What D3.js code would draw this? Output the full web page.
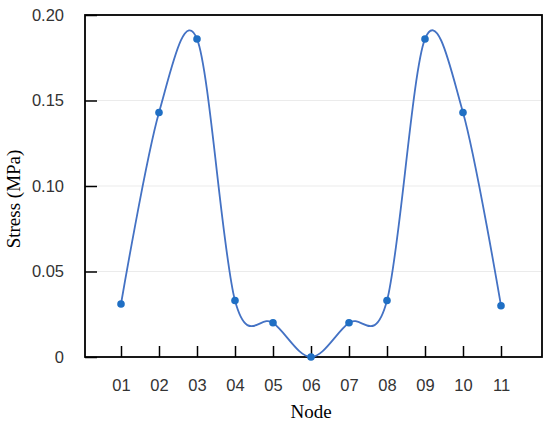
<!DOCTYPE html>
<html>
<head>
<meta charset="utf-8">
<script src="https://cdn.jsdelivr.net/npm/d3@7"></script>
<style>
  body { margin: 0; background: #fff; }
  svg { display: block; }
</style>
</head>
<body>
<div id="chart"></div>
<script>
const nodes = ['01', '02', '03', '04', '05', '06', '07', '08', '09', '10', '11'];
const stress = [0.031, 0.143, 0.186, 0.033, 0.020, 0.0, 0.020, 0.033, 0.186, 0.143, 0.030];
const yTicks = [0, 0.05, 0.10, 0.15, 0.20];
const yTickLabels = ['0', '0.05', '0.10', '0.15', '0.20'];

const W = 550, H = 428;
const margin = { top: 15, right: 8, bottom: 71, left: 85 };
const width = W - margin.left - margin.right;
const height = H - margin.top - margin.bottom;

const svg = d3.select('#chart').append('svg')
  .attr('width', W).attr('height', H);

const g = svg.append('g')
  .attr('transform', `translate(${margin.left}, ${margin.top})`);

const x = d3.scalePoint().domain(nodes).range([36, 416]);
const y = d3.scaleLinear().domain([0, 0.2]).range([height, 0]);

// gridlines
g.append('g')
  .selectAll('line')
  .data(yTicks.slice(1))
  .enter().append('line')
  .attr('x1', 0).attr('x2', width)
  .attr('y1', d => y(d)).attr('y2', d => y(d))
  .attr('stroke', '#ebebeb').attr('stroke-width', 1);

// axes, ticks pointing inward
const yAxis = g.append('g')
  .call(d3.axisLeft(y).tickValues(yTicks)
    .tickFormat((d, i) => yTickLabels[i])
    .tickSizeInner(-12).tickSizeOuter(0).tickPadding(21));
yAxis.select('.domain').remove();
yAxis.selectAll('line').attr('stroke', '#000').attr('stroke-width', 1.5);
yAxis.selectAll('text')
  .style('font-family', '"Liberation Sans", Arial, sans-serif')
  .style('font-size', '16.5px').attr('fill', '#333');

const xAxis = g.append('g')
  .attr('transform', `translate(0, ${height})`)
  .call(d3.axisBottom(x).tickSizeInner(-11).tickSizeOuter(0).tickPadding(22));
xAxis.select('.domain').remove();
xAxis.selectAll('line').attr('stroke', '#000').attr('stroke-width', 1.5);
xAxis.selectAll('text')
  .style('font-family', '"Liberation Sans", Arial, sans-serif')
  .style('font-size', '16.5px').attr('fill', '#333');

// frame
g.append('rect')
  .attr('x', 0).attr('y', 0)
  .attr('width', width).attr('height', height)
  .attr('fill', 'none').attr('stroke', '#000').attr('stroke-width', 1.8);

// smooth line through the points (uniform cardinal spline)
const line = d3.line()
  .x((d, i) => x(nodes[i]))
  .y(d => y(d))
  .curve(d3.curveCardinal.tension(0));

g.append('path')
  .datum(stress)
  .attr('fill', 'none')
  .attr('stroke', '#4472c4')
  .attr('stroke-width', 1.8)
  .attr('d', line);

g.selectAll('.pt')
  .data(stress)
  .enter().append('circle')
  .attr('class', 'pt')
  .attr('cx', (d, i) => x(nodes[i]))
  .attr('cy', d => y(d))
  .attr('r', 3.8)
  .attr('fill', '#1f6fc4');

// axis titles
svg.append('text')
  .attr('x', margin.left + x('06')).attr('y', 418)
  .attr('text-anchor', 'middle')
  .style('font-family', '"Liberation Serif", "Times New Roman", serif')
  .style('font-size', '19px')
  .text('Node');

svg.append('text')
  .attr('transform', `translate(20, ${margin.top + height / 2 + 13}) rotate(-90)`)
  .attr('text-anchor', 'middle')
  .style('font-family', '"Liberation Serif", "Times New Roman", serif')
  .style('font-size', '19px')
  .text('Stress (MPa)');
</script>
</body>
</html>
